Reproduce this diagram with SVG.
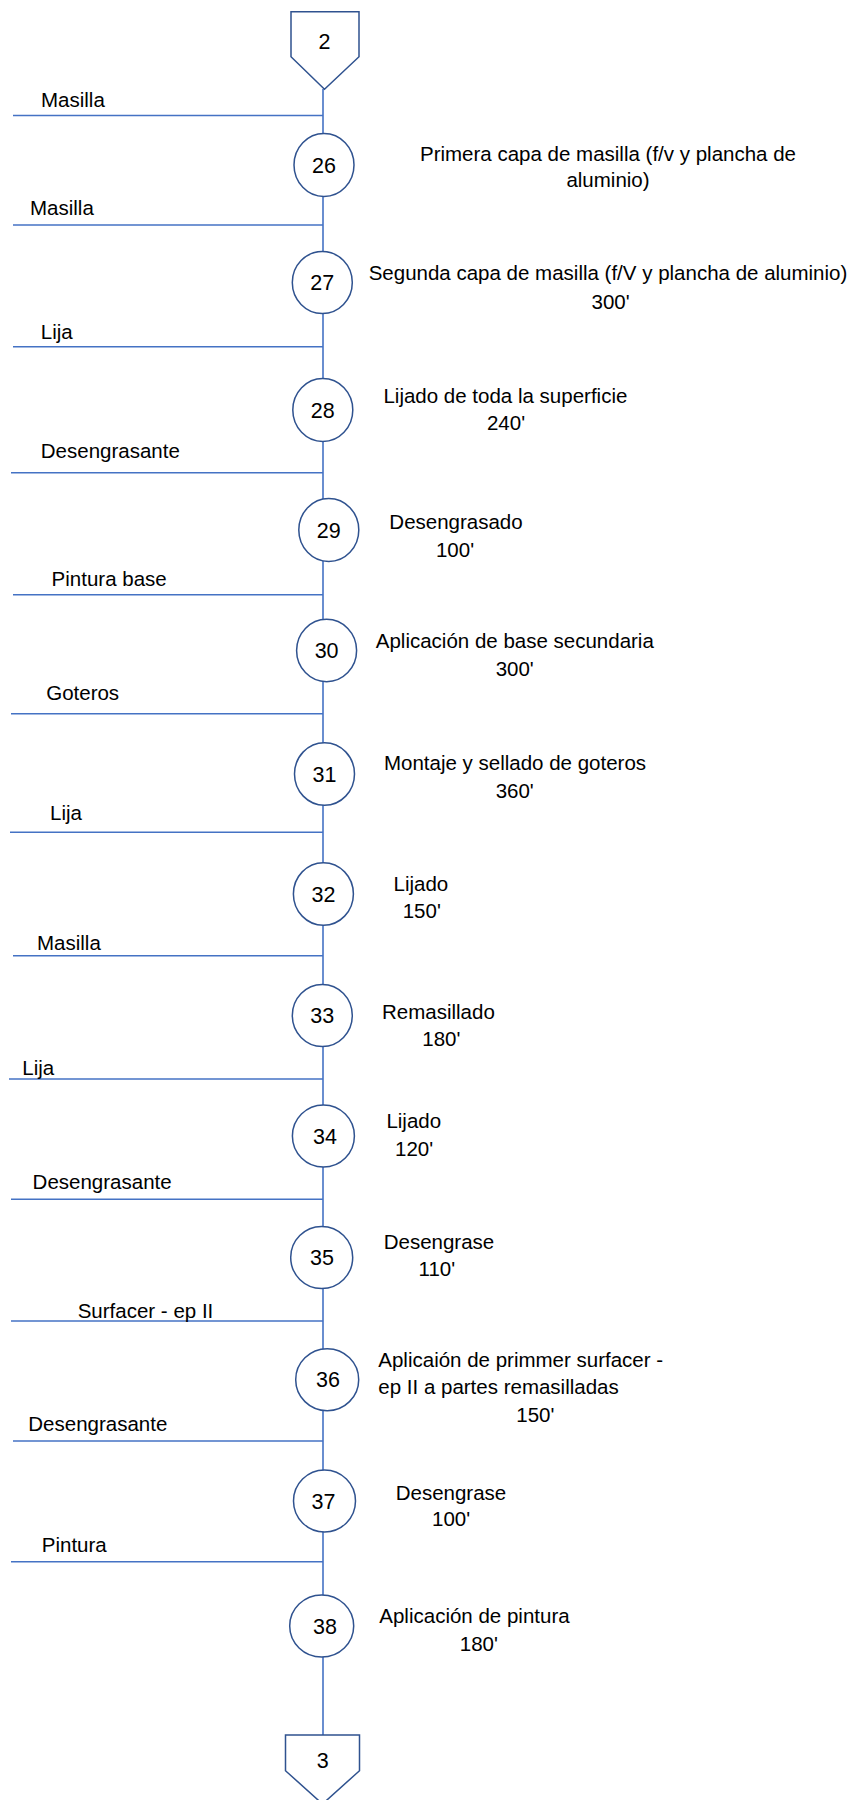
<svg xmlns="http://www.w3.org/2000/svg" width="848" height="1800" viewBox="0 0 848 1800">
<style>
.ln{stroke:#4472C4;stroke-width:1.6;fill:none}
.sh{stroke:#2F528F;stroke-width:1.5;fill:#fff}
text{font-family:"Liberation Sans",Arial,sans-serif;font-size:20.5px;fill:#000}
.c{text-anchor:middle}
.n{text-anchor:middle;font-size:21.5px}
</style>
<rect width="848" height="1800" fill="#fff"/>
<g id="connectors">
<line class="ln" x1="323" y1="89" x2="323" y2="1735"/>
<line class="ln" x1="13" y1="115.5" x2="323" y2="115.5"/>
<line class="ln" x1="13" y1="225" x2="323" y2="225"/>
<line class="ln" x1="13" y1="346.7" x2="323" y2="346.7"/>
<line class="ln" x1="11" y1="472.7" x2="323" y2="472.7"/>
<line class="ln" x1="13" y1="594.7" x2="323" y2="594.7"/>
<line class="ln" x1="11" y1="713.7" x2="323" y2="713.7"/>
<line class="ln" x1="10" y1="832.3" x2="323" y2="832.3"/>
<line class="ln" x1="13" y1="955.7" x2="323" y2="955.7"/>
<line class="ln" x1="9" y1="1079" x2="323" y2="1079"/>
<line class="ln" x1="11" y1="1199.3" x2="323" y2="1199.3"/>
<line class="ln" x1="11" y1="1321" x2="323" y2="1321"/>
<line class="ln" x1="13" y1="1441" x2="323" y2="1441"/>
<line class="ln" x1="11" y1="1561.7" x2="323" y2="1561.7"/>
</g>
<g id="inputs">
<text x="41" y="106.7">Masilla</text>
<text x="30" y="215.3">Masilla</text>
<text x="40.8" y="339.3">Lija</text>
<text x="40.8" y="458.3">Desengrasante</text>
<text x="51.6" y="586">Pintura base</text>
<text x="46.2" y="700">Goteros</text>
<text x="50" y="820">Lija</text>
<text x="37" y="950">Masilla</text>
<text x="22.3" y="1075">Lija</text>
<text x="32.6" y="1189.3">Desengrasante</text>
<text x="77.7" y="1317.7">Surfacer - ep II</text>
<text x="28.3" y="1431">Desengrasante</text>
<text x="41.8" y="1551.7">Pintura</text>
</g>
<g id="conn-2">
<polygon class="sh" points="291,11.7 359,11.7 359,56.7 324.5,89.3 291,56.7"/>
<text class="n" x="324.5" y="49">2</text>
</g>
<g id="op-26">
<ellipse class="sh" cx="324" cy="165" rx="30" ry="31.5"/>
<text class="n" x="324" y="172.5">26</text>
<text class="c" x="608" y="161">Primera capa de masilla (f/v y plancha de</text>
<text class="c" x="608" y="186.7">aluminio)</text>
</g>
<g id="op-27">
<ellipse class="sh" cx="322.3" cy="282.5" rx="30" ry="31"/>
<text class="n" x="322.3" y="290">27</text>
<text class="c" x="608" y="280">Segunda capa de masilla (f/V y plancha de aluminio)</text>
<text class="c" x="610.6" y="309">300'</text>
</g>
<g id="op-28">
<ellipse class="sh" cx="322.8" cy="410" rx="30" ry="31.5"/>
<text class="n" x="322.8" y="417.5">28</text>
<text class="c" x="505.4" y="403.3">Lijado de toda la superficie</text>
<text class="c" x="506" y="430">240'</text>
</g>
<g id="op-29">
<ellipse class="sh" cx="328.8" cy="530" rx="30" ry="31.5"/>
<text class="n" x="328.8" y="537.5">29</text>
<text class="c" x="456" y="529">Desengrasado</text>
<text class="c" x="455" y="556.7">100'</text>
</g>
<g id="op-30">
<ellipse class="sh" cx="326.6" cy="650.5" rx="30" ry="31.2"/>
<text class="n" x="326.6" y="658">30</text>
<text class="c" x="514.8" y="648.3">Aplicación de base secundaria</text>
<text class="c" x="514.7" y="676">300'</text>
</g>
<g id="op-31">
<ellipse class="sh" cx="324.5" cy="774" rx="30" ry="31.3"/>
<text class="n" x="324.5" y="781.5">31</text>
<text class="c" x="515" y="770">Montaje y sellado de goteros</text>
<text class="c" x="514.7" y="797.7">360'</text>
</g>
<g id="op-32">
<ellipse class="sh" cx="323.4" cy="894" rx="30" ry="31.3"/>
<text class="n" x="323.4" y="901.5">32</text>
<text x="393.5" y="890.7">Lijado</text>
<text x="402.7" y="918.3">150'</text>
</g>
<g id="op-33">
<ellipse class="sh" cx="322.3" cy="1015.5" rx="30" ry="31"/>
<text class="n" x="322.3" y="1023">33</text>
<text x="382" y="1019.3">Remasillado</text>
<text x="422.3" y="1045.7">180'</text>
</g>
<g id="op-34">
<ellipse class="sh" cx="323.4" cy="1136" rx="31" ry="31"/>
<text class="n" x="325" y="1143.5">34</text>
<text x="386.4" y="1127.7">Lijado</text>
<text x="395" y="1155.7">120'</text>
</g>
<g id="op-35">
<ellipse class="sh" cx="321.7" cy="1257.5" rx="31" ry="31"/>
<text class="n" x="322" y="1265">35</text>
<text x="383.7" y="1249">Desengrase</text>
<text x="418.5" y="1276">110'</text>
</g>
<g id="op-36">
<ellipse class="sh" cx="327.2" cy="1379.7" rx="31.5" ry="31"/>
<text class="n" x="328" y="1387.2">36</text>
<text x="378.3" y="1366.7">Aplicaión de primmer surfacer -</text>
<text x="378.3" y="1394.3">ep II a partes remasilladas</text>
<text x="516.3" y="1421.7">150'</text>
</g>
<g id="op-37">
<ellipse class="sh" cx="324.5" cy="1501" rx="31" ry="31"/>
<text class="n" x="323.5" y="1508.5">37</text>
<text x="395.7" y="1500">Desengrase</text>
<text x="432" y="1526">100'</text>
</g>
<g id="op-38">
<ellipse class="sh" cx="321.7" cy="1626" rx="32" ry="31"/>
<text class="n" x="325" y="1633.5">38</text>
<text x="379.3" y="1623.3">Aplicación de pintura</text>
<text x="459.8" y="1650.7">180'</text>
</g>
<g id="conn-3">
<polygon class="sh" points="285.5,1735 359.5,1735 359.5,1770.7 322.5,1804 285.5,1770.7"/>
<text class="n" x="322.7" y="1768">3</text>
</g>
</svg>
